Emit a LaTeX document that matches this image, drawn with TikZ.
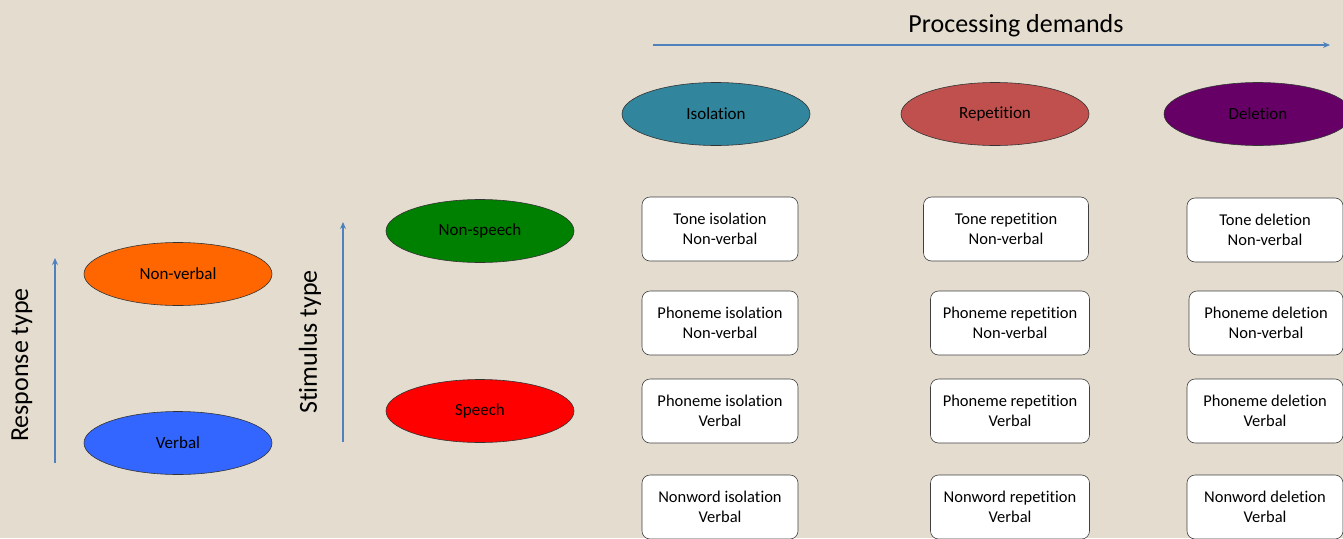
\documentclass[tikz,border=0pt]{standalone}
\usepackage{fontspec}
\setmainfont{Carlito}[Ligatures=NoCommon]
\usepackage{tikz}
\usetikzlibrary{positioning,shapes.geometric,arrows.meta}
\definecolor{paper}{RGB}{228,221,207}
\definecolor{axisblue}{RGB}{79,129,189}
\definecolor{isocol}{RGB}{49,133,156}
\definecolor{repcol}{RGB}{192,80,77}
\definecolor{delcol}{RGB}{102,0,102}
\definecolor{nvcol}{RGB}{255,102,0}
\definecolor{vcol}{RGB}{51,102,255}
\definecolor{nscol}{RGB}{0,128,0}
\definecolor{spcol}{RGB}{255,0,0}
\tikzset{
  oval/.style     = {ellipse, draw=black!80, line width=0.6pt, minimum width=188pt, minimum height=63pt, inner sep=0pt, font=\fontsize{17}{20}\selectfont},
  task/.style     = {draw=black!75, fill=white, rounded corners=8pt, line width=0.6pt, minimum height=64pt, align=center, inner sep=0pt, font=\fontsize{16.5}{20}\selectfont},
  axis/.style     = {-{Stealth[length=7pt,width=6pt]}, draw=axisblue, line width=1.3pt},
  axislbl/.style  = {inner sep=0pt, font=\fontsize{26}{30}\selectfont},
}

\begin{document}
\begin{tikzpicture}[x=1pt,y=-1pt]
  \useasboundingbox[fill=paper] (0,0) rectangle (1343,538);

  % processing demands
  \node[axislbl] (pd) at (1016,26) {Processing demands};
  \coordinate (pdS) at (653,45);
  \coordinate (pdE) at (1330,45);
  \draw[axis] (pdS) -- (pdE);

  \node[oval, fill=isocol] (iso) at (716,114) {Isolation};
  \node[oval, fill=repcol] (rep) at (995,114) {Repetition};
  \node[oval, fill=delcol] (del) at (1258,114) {Deletion};

  % response type
  \node[axislbl, rotate=90] (rt) at (22,365) {Response type};
  \coordinate (rtS) at (55,463);
  \coordinate (rtE) at (55,258);
  \draw[axis] (rtS) -- (rtE);
  \node[oval, fill=nvcol] (nv) at (178,274) {Non-verbal};
  \node[oval, fill=vcol]  (vb) at (178,443) {Verbal};

  % stimulus type
  \node[axislbl, rotate=90] (st) at (310,342) {Stimulus type};
  \coordinate (stS) at (343,442);
  \coordinate (stE) at (343,222);
  \draw[axis] (stS) -- (stE);
  \node[oval, fill=nscol] (ns) at (480,231) {Non-speech};
  \node[oval, fill=spcol] (sp) at (480,411) {Speech};

  % task boxes
  \foreach \n/\x/\y/\w/\t in {%
    ti/720/228/156/{Tone isolation\\Non-verbal},
    pin/720/322/156/{Phoneme isolation\\Non-verbal},
    piv/720/410/156/{Phoneme isolation\\Verbal},
    nwi/720/506/156/{Nonword isolation\\Verbal},
    tr/1006/228/165/{Tone repetition\\Non-verbal},
    prn/1010/322/159/{Phoneme repetition\\Non-verbal},
    prv/1010/410/159/{Phoneme repetition\\Verbal},
    nwr/1010/506/159/{Nonword repetition\\Verbal},
    td/1265/229/156/{Tone deletion\\Non-verbal},
    pdn/1266/322/154/{Phoneme deletion\\Non-verbal},
    pdv/1265/410/156/{Phoneme deletion\\Verbal},
    nwd/1265/506/156/{Nonword deletion\\Verbal}}
  {
    \node[task, minimum width=\w pt, text depth=0pt, yshift=-1pt] (\n) at (\x,\y) {\t};
  }
\end{tikzpicture}
\end{document}
